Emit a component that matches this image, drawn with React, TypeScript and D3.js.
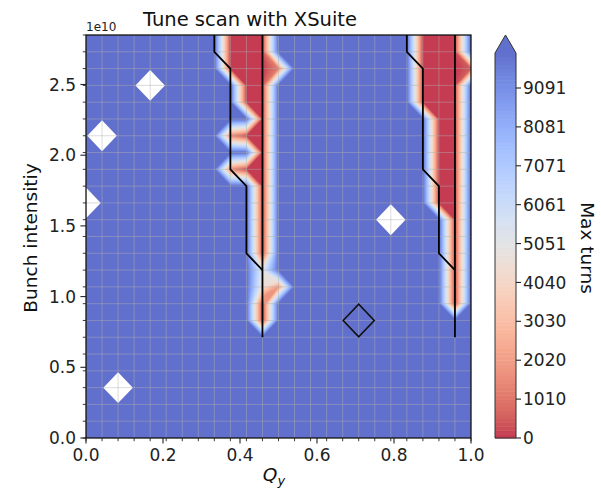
import React from 'react';
import * as d3 from 'd3';

// ---- scan grid (25 x 25 points) ----
const QY_GRID = [0, 0.0417, 0.0833, 0.125, 0.1667, 0.2083, 0.25, 0.2917, 0.3333, 0.375, 0.4167, 0.4583, 0.5,
  0.5417, 0.5833, 0.625, 0.6667, 0.7083, 0.75, 0.7917, 0.8333, 0.875, 0.9167, 0.9583, 1.0];
const INTENSITY_GRID_E10 = [0, 0.11875, 0.2375, 0.35625, 0.475, 0.59375, 0.7125, 0.83125, 0.95, 1.06875, 1.1875,
  1.30625, 1.425, 1.54375, 1.6625, 1.78125, 1.9, 2.01875, 2.1375, 2.25625, 2.375, 2.49375, 2.6125, 2.73125, 2.85];

// max turns reached; every scan point survived (cap) except the ones listed here
const MAX_TURNS_CAP = 10000;
// [qy index, intensity index, max turns]
const REDUCED_POINTS: [number, number, number][] = [
  // resonance band near Qy ~ 0.42
  [9, 24, 0], [9, 23, 0], [9, 22, 0], [9, 18, 1500], [9, 16, 1500],
  [10, 24, 0], [10, 23, 0], [10, 22, 0], [10, 21, 0], [10, 20, 0], [10, 18, 0], [10, 16, 0],
  [11, 24, 0], [11, 23, 0], [11, 22, 0], [11, 21, 0], [11, 20, 0], [11, 19, 0], [11, 18, 0], [11, 17, 0],
  [11, 16, 0], [11, 15, 0], [11, 14, 0], [11, 13, 0], [11, 12, 0], [11, 11, 0], [11, 10, 5000], [11, 9, 4500],
  [11, 8, 0], [11, 7, 0],
  [12, 22, 1200], [12, 9, 1800],
  // resonance band near Qy ~ 0.92
  [21, 24, 0], [21, 23, 0], [21, 22, 0], [21, 21, 0], [21, 20, 0],
  [22, 24, 0], [22, 23, 0], [22, 22, 0], [22, 21, 0], [22, 20, 0], [22, 19, 0], [22, 18, 0], [22, 17, 0],
  [22, 16, 0], [22, 15, 0], [22, 14, 0],
  [23, 24, 0], [23, 23, 0], [23, 22, 0], [23, 21, 0], [23, 20, 0], [23, 19, 0], [23, 18, 0], [23, 17, 0],
  [23, 16, 0], [23, 15, 0], [23, 14, 0], [23, 13, 0], [23, 12, 0], [23, 11, 0], [23, 10, 0], [23, 9, 0], [23, 8, 0],
  [24, 22, 500],
];
// scan points without result (blank)
const MISSING_POINTS: [number, number][] = [[4, 21], [1, 18], [0, 14], [19, 13], [2, 3]];
// black stability contours [qy index, intensity index]
const STABILITY_LINES: [number, number][][] = [
  [[8, 24], [8, 23], [9, 22], [9, 16], [10, 15], [10, 11], [11, 10]],
  [[11, 24], [11, 6]],
  [[20, 24], [20, 23], [21, 22], [21, 16], [22, 15], [22, 11], [23, 10]],
  [[23, 24], [23, 6]],
];
const STABILITY_ISLAND: [number, number] = [17, 7];

const X_TICKS = [0, 0.2, 0.4, 0.6, 0.8, 1.0];
const X_TICK_LABELS = ['0.0', '0.2', '0.4', '0.6', '0.8', '1.0'];
const Y_TICKS_E10 = [0, 0.5, 1.0, 1.5, 2.0, 2.5];
const Y_TICK_LABELS = ['0.0', '0.5', '1.0', '1.5', '2.0', '2.5'];
const CBAR_TICKS = [0, 1010.1, 2020.2, 3030.3, 4040.4, 5050.5, 6060.6, 7070.7, 8080.8, 9090.9];
const CBAR_TICK_LABELS = ['0', '1010', '2020', '3030', '4040', '5051', '6061', '7071', '8081', '9091'];
const LEVELS = d3.range(100).map((k) => (k * MAX_TURNS_CAP) / 99);

// matplotlib "coolwarm" table
const COOLWARM = [
  [59, 76, 192], [68, 90, 204], [77, 104, 215], [87, 117, 225], [98, 130, 234], [108, 142, 241], [119, 154, 247],
  [130, 165, 251], [141, 176, 254], [152, 185, 255], [163, 194, 255], [174, 201, 253], [184, 208, 249],
  [194, 213, 244], [204, 217, 238], [213, 219, 230], [221, 221, 221], [229, 216, 209], [236, 211, 197],
  [241, 204, 185], [245, 196, 173], [247, 187, 160], [247, 177, 148], [247, 166, 135], [244, 154, 123],
  [241, 141, 111], [236, 127, 99], [229, 112, 88], [222, 96, 77], [213, 80, 66], [203, 62, 56], [192, 40, 47],
  [180, 4, 38],
];

const FONT = 'DejaVu Sans, Liberation Sans, sans-serif';

export default function App() {
  const W = 601, H = 493;
  const M = { left: 86, right: 471, top: 35, bottom: 438 };
  const NQ = QY_GRID.length, NI = INTENSITY_GRID_E10.length;

  const x = d3.scaleLinear().domain([0, 1]).range([M.left, M.right]);
  const y = d3.scaleLinear().domain([0, INTENSITY_GRID_E10[NI - 1] * 1e10]).range([M.bottom, M.top]);
  const xi = d3.scaleLinear().domain([0, NQ - 1]).range([x(QY_GRID[0]), x(QY_GRID[NQ - 1])]);
  const yj = d3.scaleLinear().domain([0, NI - 1]).range([y(INTENSITY_GRID_E10[0] * 1e10), y(INTENSITY_GRID_E10[NI - 1] * 1e10)]);

  const coolwarm = d3.scaleLinear<string>()
    .domain(COOLWARM.map((_, k) => k / (COOLWARM.length - 1)))
    .range(COOLWARM.map((c) => `rgb(${c[0]},${c[1]},${c[2]})`))
    .interpolate(d3.interpolateRgb);
  const cmap = (v: number) => coolwarm(1 - v / MAX_TURNS_CAP);
  const withAlpha = (c: string) => d3.interpolateRgb('#ffffff', c)(0.8);
  const bandColor = (k: number) =>
    k >= LEVELS.length - 1 ? withAlpha(cmap(MAX_TURNS_CAP)) : withAlpha(cmap((LEVELS[k] + LEVELS[k + 1]) / 2));

  const values = new Array(NQ * NI).fill(MAX_TURNS_CAP);
  REDUCED_POINTS.forEach(([i, j, v]) => { values[j * NQ + i] = v; });
  const contours = d3.contours().size([NQ, NI]).thresholds(LEVELS)(values);
  const proj = d3.geoTransform({
    point: function (px: number, py: number) { (this as any).stream.point(xi(px - 0.5), yj(py - 0.5)); },
  });
  const gp = d3.geoPath(proj);

  const line = d3.line<[number, number]>().x((d) => xi(d[0])).y((d) => yj(d[1]));
  const diamond = (c: [number, number], r: number) =>
    [[c[0] - r, c[1]], [c[0], c[1] + r], [c[0] + r, c[1]], [c[0], c[1] - r]]
      .map((p) => `${xi(p[0])},${yj(p[1])}`).join(' ');

  // colorbar
  const CB = { x0: 495, x1: 516, y0: 438, y1: 53, tip: 35 };
  const cy = d3.scaleLinear().domain([0, MAX_TURNS_CAP]).range([CB.y0, CB.y1]);

  const tickColor = '#222';
  return (
    <svg width={W} height={H} style={{ display: 'block', position: 'absolute', left: 0, top: 0 }} fontFamily={FONT}>
      <rect width={W} height={H} fill="#fff" />
      <defs>
        <clipPath id="plotclip">
          <rect x={M.left} y={M.top} width={M.right - M.left} height={M.bottom - M.top} />
        </clipPath>
      </defs>
      <g clipPath="url(#plotclip)">
        {contours.map((c, k) => (
          <path key={k} d={gp(c as any) || ''} fill={bandColor(k)} stroke="none" />
        ))}
        {MISSING_POINTS.map((p, k) => (
          <polygon key={k} points={diamond(p, 0.92)} fill="#fff" />
        ))}
        {QY_GRID.map((q, k) => (
          <line key={'gx' + k} x1={x(q)} x2={x(q)} y1={M.top} y2={M.bottom} stroke="#b0b0b0" strokeOpacity={0.45} strokeWidth={1} />
        ))}
        {INTENSITY_GRID_E10.map((v, k) => (
          <line key={'gy' + k} x1={M.left} x2={M.right} y1={y(v * 1e10)} y2={y(v * 1e10)} stroke="#b0b0b0" strokeOpacity={0.45} strokeWidth={1} />
        ))}
        {STABILITY_LINES.map((l, k) => (
          <path key={'sl' + k} d={line(l) || ''} fill="none" stroke="#000" strokeWidth={1.8} strokeLinejoin="round" />
        ))}
        <polygon points={diamond(STABILITY_ISLAND, 0.97)} fill="none" stroke="#111" strokeWidth={1.6} />
      </g>
      <rect x={M.left} y={M.top} width={M.right - M.left} height={M.bottom - M.top} fill="none" stroke="#000" strokeWidth={1.2} />

      {/* x ticks */}
      {QY_GRID.map((q, k) => (
        <line key={'mx' + k} x1={x(q)} x2={x(q)} y1={M.bottom} y2={M.bottom + 3.2} stroke={tickColor} strokeWidth={0.9} />
      ))}
      {X_TICKS.map((t, k) => (
        <g key={'tx' + k}>
          <line x1={x(t)} x2={x(t)} y1={M.bottom} y2={M.bottom + 5.6} stroke={tickColor} strokeWidth={1.1} />
          <text x={x(t)} y={M.bottom + 23} textAnchor="middle" fontSize={17} fill={tickColor}>{X_TICK_LABELS[k]}</text>
        </g>
      ))}
      {/* y ticks */}
      {INTENSITY_GRID_E10.map((v, k) => (
        <line key={'my' + k} x1={M.left - 3.2} x2={M.left} y1={y(v * 1e10)} y2={y(v * 1e10)} stroke={tickColor} strokeWidth={0.9} />
      ))}
      {Y_TICKS_E10.map((t, k) => (
        <g key={'ty' + k}>
          <line x1={M.left - 5.6} x2={M.left} y1={y(t * 1e10)} y2={y(t * 1e10)} stroke={tickColor} strokeWidth={1.1} />
          <text x={M.left - 10} y={y(t * 1e10)} dy="0.36em" textAnchor="end" fontSize={17} fill={tickColor}>{Y_TICK_LABELS[k]}</text>
        </g>
      ))}
      <text x={M.left} y={31} fontSize={12} fill={tickColor}>1e10</text>

      {/* labels */}
      <text x={143} y={26} textAnchor="start" fontSize={19.5} fill="#111">Tune scan with XSuite</text>
      <text transform={`translate(37,238) rotate(-90)`} textAnchor="middle" fontSize={18.5} fill="#111">Bunch intensitiy</text>
      <text x={274} y={481} textAnchor="middle" fontSize={18.5} fill="#111">
        <tspan fontStyle="italic">Q</tspan>
        <tspan fontStyle="italic" fontSize={13} dy={4}>y</tspan>
      </text>

      {/* colorbar */}
      {LEVELS.slice(0, -1).map((l, k) => (
        <rect key={'cb' + k} x={CB.x0} width={CB.x1 - CB.x0} y={cy(LEVELS[k + 1])} height={cy(l) - cy(LEVELS[k + 1]) + 0.5} fill={bandColor(k)} />
      ))}
      <polygon points={`${CB.x0},${CB.y1} ${(CB.x0 + CB.x1) / 2},${CB.tip} ${CB.x1},${CB.y1}`} fill={bandColor(LEVELS.length - 1)} />
      <path d={`M${CB.x0},${CB.y0} L${CB.x0},${CB.y1} L${(CB.x0 + CB.x1) / 2},${CB.tip} L${CB.x1},${CB.y1} L${CB.x1},${CB.y0} Z`} fill="none" stroke="#333" strokeWidth={1} />
      {CBAR_TICKS.map((t, k) => (
        <g key={'ct' + k}>
          <line x1={CB.x1} x2={CB.x1 + 5} y1={cy(t)} y2={cy(t)} stroke={tickColor} strokeWidth={1.1} />
          <text x={CB.x1 + 7} y={cy(t)} dy="0.36em" fontSize={17} fill={tickColor}>{CBAR_TICK_LABELS[k]}</text>
        </g>
      ))}
      <text transform={`translate(581,248) rotate(90)`} textAnchor="middle" fontSize={18.5} fill="#111">Max turns</text>
    </svg>
  );
}
